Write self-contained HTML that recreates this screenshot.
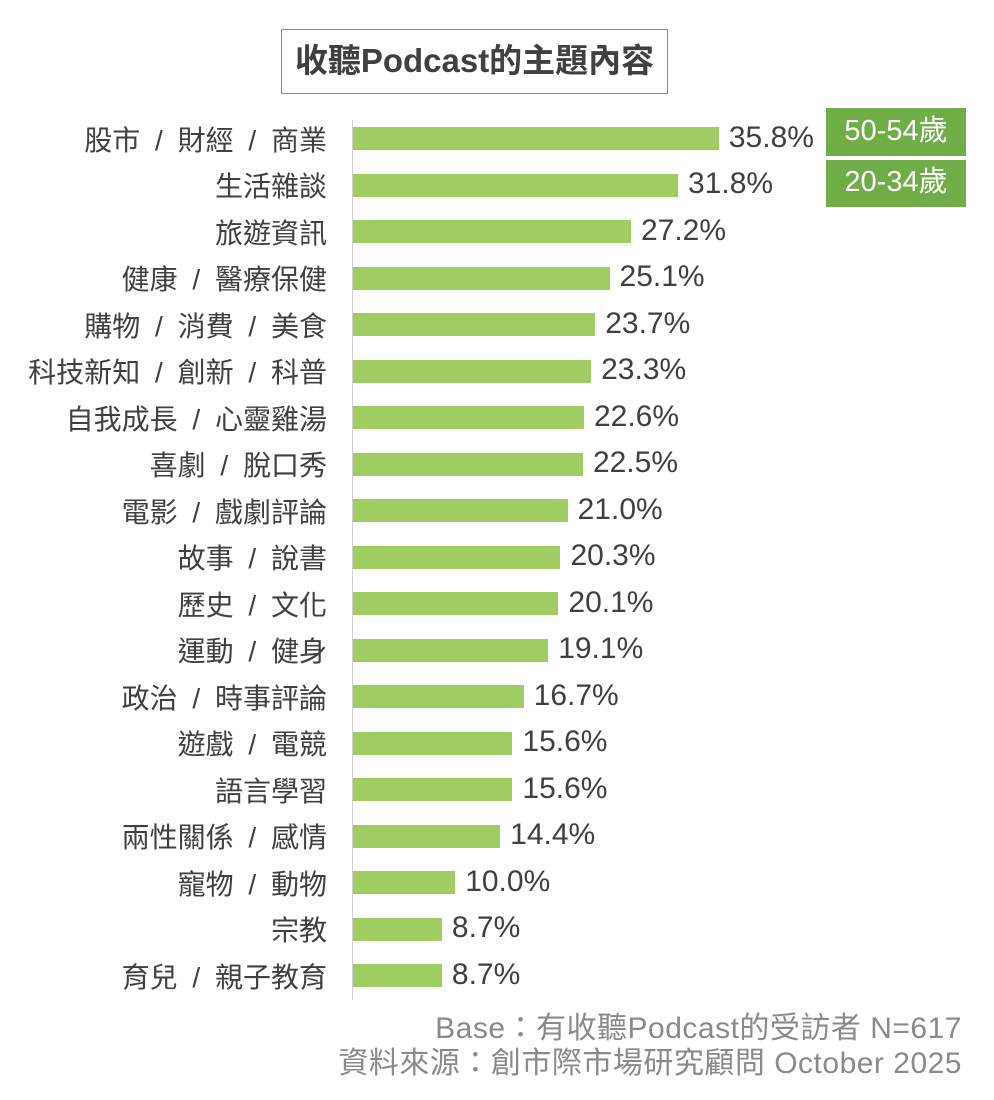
<!DOCTYPE html><html><head><meta charset="utf-8"><style>
body{margin:0;width:994px;height:1100px;background:#fff;position:relative;font-family:"Liberation Sans","Noto Sans CJK TC",sans-serif;overflow:hidden}
.t{position:absolute;left:281px;top:29px;width:387px;height:65px;border:1.5px solid #888;box-sizing:border-box;text-align:center;line-height:62px;font-size:33px;font-weight:bold;color:#404040;white-space:nowrap}
.ax{position:absolute;left:352px;top:120px;width:1px;height:880px;background:#d0d0d0}
.l{position:absolute;right:667px;font-size:28px;color:#404040;white-space:nowrap;line-height:32px}
.l s{text-decoration:none;padding:0 7px}
.b{position:absolute;left:353px;height:23px;background:#a0cd62}
.v{position:absolute;font-size:30px;color:#404040;line-height:32px}
.g{position:absolute;left:826px;width:140px;background:#70ad47;color:#fff;font-size:29px;text-align:center}
.f{position:absolute;right:32px;font-size:30px;color:#8a8a8a;line-height:32px;white-space:nowrap;letter-spacing:0.5px}
</style></head><body>
<div class="t">收聽Podcast的主題內容</div>
<div class="ax"></div>
<div class="g" style="top:108px;height:48px;line-height:46px">50-54歲</div>
<div class="g" style="top:160px;height:47px;line-height:45px">20-34歲</div>
<div id="c"></div>
<div class="f" style="top:1013px">Base：有收聽Podcast的受訪者 N=617</div>
<div class="f" style="top:1048px">資料來源：創市際市場研究顧問 October 2025</div>
<script>
var d=[["股市 / 財經 / 商業",35.8],["生活雜談",31.8],["旅遊資訊",27.2],["健康 / 醫療保健",25.1],["購物 / 消費 / 美食",23.7],["科技新知 / 創新 / 科普",23.3],["自我成長 / 心靈雞湯",22.6],["喜劇 / 脫口秀",22.5],["電影 / 戲劇評論",21.0],["故事 / 說書",20.3],["歷史 / 文化",20.1],["運動 / 健身",19.1],["政治 / 時事評論",16.7],["遊戲 / 電競",15.6],["語言學習",15.6],["兩性關係 / 感情",14.4],["寵物 / 動物",10.0],["宗教",8.7],["育兒 / 親子教育",8.7]];
var h="";d.forEach(function(r,i){var c=138.5+i*46.5,w=r[1]*10.22;
h+='<div class="l" style="top:'+(c-14)+'px">'+r[0].replace(/ \/ /g,'<s> / </s>')+'</div><div class="b" style="top:'+(c-11.5)+'px;width:'+w+'px"></div><div class="v" style="left:'+(353+w+10)+'px;top:'+(c-17)+'px">'+r[1].toFixed(1)+'%</div>';});
document.getElementById("c").innerHTML=h;
</script>
</body></html>
